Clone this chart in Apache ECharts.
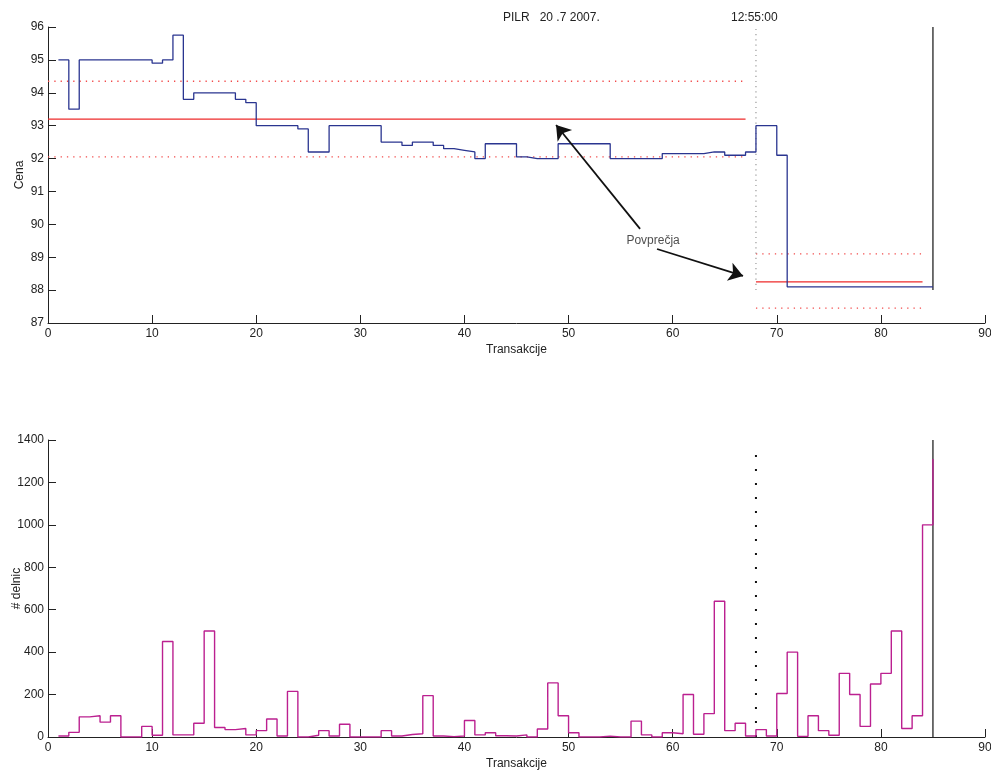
<!DOCTYPE html>
<html>
<head>
<meta charset="utf-8">
<script src="https://cdn.jsdelivr.net/npm/echarts@6/dist/echarts.min.js"></script>
<style>html,body{margin:0;padding:0;background:#fff}#c{width:991px;height:770px}</style>
</head>
<body>
<div id="c"></div>
<script>
// ---- data ----
const transakcije = Array.from({length: 85}, (_, i) => i + 1);
const cena = [
  95, 93.5, 95, 95, 95, 95, 95, 95, 95, 94.9,
  95, 95.75, 93.8, 94, 94, 94, 94, 93.8, 93.7, 93,
  93, 93, 93, 92.9, 92.2, 92.2, 93, 93, 93, 93,
  93, 92.5, 92.5, 92.4, 92.5, 92.5, 92.4, 92.3, 92.25, 92.2,
  92.0, 92.45, 92.45, 92.45, 92.05, 92.0, 92.0, 92.0, 92.45, 92.45,
  92.45, 92.45, 92.45, 92.0, 92.0, 92.0, 92.0, 92.0, 92.15, 92.15,
  92.15, 92.15, 92.2, 92.2, 92.1, 92.1, 92.2, 93.0, 93.0, 92.1,
  88.1, 88.1, 88.1, 88.1, 88.1, 88.1, 88.1, 88.1, 88.1, 88.1,
  88.1, 88.1, 88.1, 88.1, 88.1
];
const delnic = [
  5, 22, 95, 100, 70, 100, 0, 0, 50, 8,
  450, 10, 10, 65, 500, 45, 35, 40, 10, 30,
  85, 5, 215, 0, 8, 30, 5, 60, 0, 0,
  0, 30, 5, 12, 15, 195, 5, 2, 5, 78,
  10, 20, 6, 5, 10, 0, 38, 255, 100, 20,
  0, 0, 4, 0, 0, 75, 10, 0, 20, 15,
  200, 13, 110, 640, 30, 65, 5, 35, 5, 205,
  400, 3, 100, 30, 8, 300, 200, 50, 250, 300,
  500, 40, 100, 1000, 1310
];
// averages: [xStart, xEnd, mean, upper, lower]
const povprecje1 = [0, 67, 93.2, 94.35, 92.05];
const povprecje2 = [68, 84, 88.25, 89.1, 87.45];
const markerX = 68;   // 12:55:00
const endX = 85;
const xTicks = [0, 90, 10];
const yTicksCena = [87, 96, 1];
const yTicksDelnic = [0, 1400, 200];
const arrows = [
  [[56.87, 89.86], [48.8, 93.02]],
  [[58.5, 89.25], [66.76, 88.43]]
];
const labelPos = [58.12, 89.5];

const FONT = 'Liberation Sans, Arial, sans-serif';
const AX = '#222';

function pairs(xs, ys) { return xs.map((x, i) => [x, ys[i]]); }

function xAxis(gi) {
  return {
    gridIndex: gi, type: 'value', min: xTicks[0], max: xTicks[1], interval: xTicks[2],
    name: 'Transakcije', nameLocation: 'middle', nameGap: 21, nameMoveOverlap: false,
    nameTextStyle: {color: AX, fontSize: 12, fontFamily: FONT},
    axisLine: {onZero: false, lineStyle: {color: AX, width: 1}},
    axisTick: {inside: true, length: 8, lineStyle: {color: AX}},
    axisLabel: {color: AX, fontSize: 12, fontFamily: FONT, margin: 5, formatter: v => String(v)},
    splitLine: {show: false}
  };
}
function yAxis(gi, t, name, gap) {
  return {
    gridIndex: gi, type: 'value', min: t[0], max: t[1], interval: t[2],
    name: name, nameLocation: 'middle', nameGap: gap, nameRotate: 90, nameMoveOverlap: false,
    nameTextStyle: {color: AX, fontSize: 12, fontFamily: FONT},
    axisLine: {show: true, onZero: false, lineStyle: {color: AX, width: 1}},
    axisTick: {show: true, inside: true, length: 8, lineStyle: {color: AX}},
    axisLabel: {color: AX, fontSize: 12, fontFamily: FONT, margin: 4, formatter: v => String(v)},
    splitLine: {show: false}
  };
}
function seg(gi, pts, color, width, type, z) {
  return {
    type: 'line', xAxisIndex: gi, yAxisIndex: gi, data: pts,
    symbol: 'none', silent: true, animation: false, z: z || 2,
    lineStyle: {color: color, width: width, type: type || 'solid', cap: 'butt'}
  };
}

const series = [];
// means top chart
[povprecje1, povprecje2].forEach(p => {
  series.push(seg(0, [[p[0], p[2]], [p[1], p[2]]], '#ee2a2a', 1.2));
  series.push(seg(0, [[p[0], p[3]], [p[1], p[3]]], '#f24a4a', 1.3, [1.3, 5]));
  series.push(seg(0, [[p[0], p[4]], [p[1], p[4]]], '#f24a4a', 1.3, [1.3, 5]));
});
// marker line top
series.push(seg(0, [[markerX, 88], [markerX, 96]], '#999', 1.2, [1.2, 4]));
series.push(seg(0, [[endX, 88], [endX, 96]], '#111', 1.2));
// price stairs
series.push({
  type: 'line', xAxisIndex: 0, yAxisIndex: 0, data: pairs(transakcije, cena),
  step: 'end', symbol: 'none', animation: false, z: 3,
  lineStyle: {color: '#2a3590', width: 1.3}
});
// arrows
series.push({
  type: 'lines', coordinateSystem: 'cartesian2d', xAxisIndex: 0, yAxisIndex: 0,
  symbol: ['none', 'arrow'], symbolSize: [10, 14], animation: false, z: 4,
  lineStyle: {color: '#111', width: 1.8, opacity: 1},
  data: arrows.map(a => ({coords: a}))
});
series.push({
  type: 'scatter', xAxisIndex: 0, yAxisIndex: 0, data: [labelPos], symbolSize: 0,
  silent: true, animation: false,
  label: {show: true, formatter: 'Povprečja', position: 'inside', color: '#222', fontSize: 12, fontFamily: FONT}
});
// bottom
series.push(seg(1, [[markerX, 0], [markerX, 1360]], '#111', 2, [2, 12]));
series.push(seg(1, [[endX, 0], [endX, 1400]], '#111', 1.2));
series.push({
  type: 'line', xAxisIndex: 1, yAxisIndex: 1, data: pairs(transakcije, delnic),
  step: 'end', symbol: 'none', animation: false, z: 3,
  lineStyle: {color: '#bb2090', width: 1.4}
});

const chart = echarts.init(document.getElementById('c'));
chart.setOption({
  backgroundColor: '#fff',
  animation: false,
  title: [
    {text: 'PILR   20 .7 2007.', left: 503, top: 12, textStyle: {color: '#222', fontSize: 12, fontWeight: 'normal', fontFamily: FONT}, padding: 0},
    {text: '12:55:00', left: 731, top: 12, textStyle: {color: '#222', fontSize: 12, fontWeight: 'normal', fontFamily: FONT}, padding: 0}
  ],
  grid: [
    {left: 48, top: 27, width: 937, height: 296, containLabel: false, outerBoundsMode: 'none'},
    {left: 48, top: 440, width: 937, height: 297, containLabel: false, outerBoundsMode: 'none'}
  ],
  xAxis: [xAxis(0), xAxis(1)],
  yAxis: [yAxis(0, yTicksCena, 'Cena', 22), yAxis(1, yTicksDelnic, '# delnic', 25)],
  series: series
});
</script>
</body>
</html>
